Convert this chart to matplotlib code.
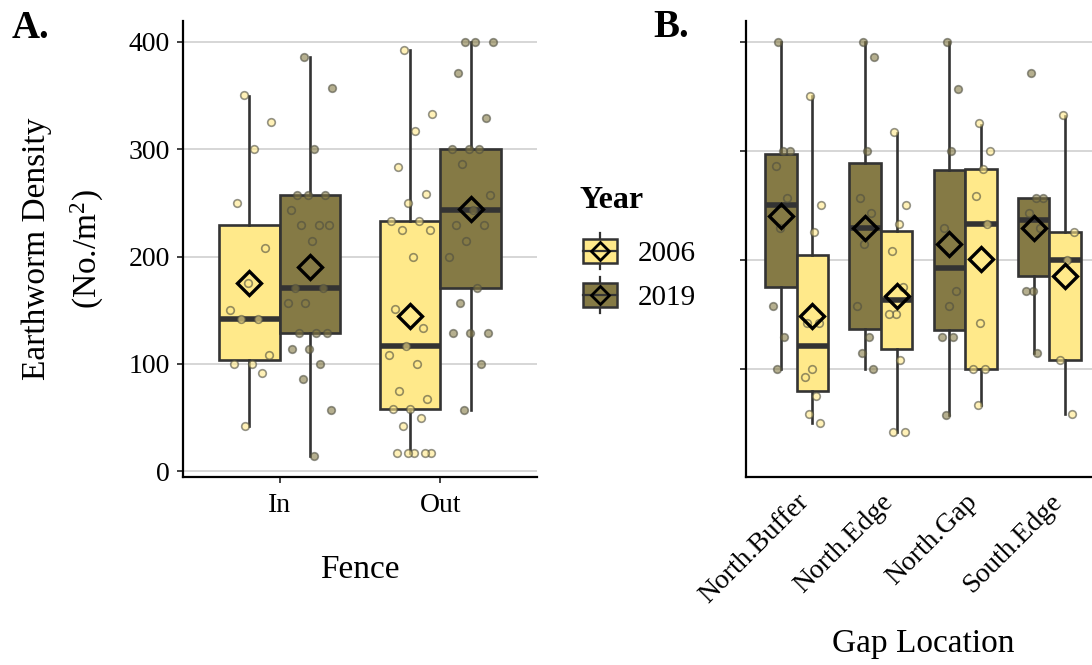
import matplotlib
matplotlib.use('Agg')
import matplotlib.pyplot as plt
import numpy as np
from matplotlib.patches import Rectangle
from matplotlib.lines import Line2D
from matplotlib.colors import to_rgba

plt.rcParams['font.family'] = ['Liberation Serif', 'DejaVu Serif']
plt.rcParams['mathtext.fontset'] = 'custom'
plt.rcParams['mathtext.rm'] = 'Liberation Serif'
plt.rcParams['mathtext.it'] = 'Liberation Serif:italic'

# ---------------- data ----------------
years = ['2006', '2019']
year_colors = {'2006': '#FFE98A', '2019': '#857A45'}

fence_cats = ['In', 'Out']
# raw points, panel A
A_pts = {
    ('In', '2006'): [350, 325, 300, 250, 208, 175, 150, 142, 142, 108, 100, 100, 92, 42],
    ('In', '2019'): [386, 357, 300, 257, 257, 257, 243, 229, 229, 229, 214, 171, 171, 157,
                     157, 129, 129, 129, 114, 114, 100, 86, 57, 14],
    ('Out', '2006'): [392, 333, 317, 283, 258, 250, 233, 233, 225, 225, 200, 151, 133, 117,
                      108, 100, 75, 67, 58, 58, 50, 42, 17, 17, 17, 17, 17],
    ('Out', '2019'): [400, 400, 400, 371, 329, 300, 300, 300, 286, 257, 243, 229, 229, 214,
                      200, 171, 157, 129, 129, 129, 100, 57],
}
# box statistics, panel A: (q1, median, q3, whisker low, whisker high, mean)
A_stats = {
    ('In', '2006'): (104, 142, 229, 42, 349, 175),
    ('In', '2019'): (129, 171, 257, 14, 386, 190),
    ('Out', '2006'): (58, 117, 233, 17, 392, 145),
    ('Out', '2019'): (171, 243, 300, 57, 400, 244),
}

gap_cats = ['North.Buffer', 'North.Edge', 'North.Gap', 'South.Edge']
B_year_order = ['2019', '2006']
B_pts = {
    ('North.Buffer', '2019'): [400, 300, 300, 286, 257, 229, 157, 129, 100],
    ('North.Edge', '2019'): [400, 386, 300, 257, 243, 214, 157, 129, 114, 100],
    ('North.Gap', '2019'): [400, 357, 300, 229, 171, 157, 129, 129, 57],
    ('South.Edge', '2019'): [371, 257, 257, 243, 229, 171, 171, 114],
    ('North.Buffer', '2006'): [350, 250, 225, 142, 142, 100, 92, 75, 58, 50],
    ('North.Edge', '2006'): [317, 250, 233, 208, 175, 150, 150, 108, 42, 42],
    ('North.Gap', '2006'): [325, 300, 283, 258, 233, 142, 100, 100, 67],
    ('South.Edge', '2006'): [333, 225, 200, 108, 58],
}
B_stats = {
    ('North.Buffer', '2019'): (175, 250, 297, 100, 400, 240),
    ('North.Edge', '2019'): (136, 229, 289, 100, 400, 229),
    ('North.Gap', '2019'): (135, 192, 282, 57, 400, 214),
    ('South.Edge', '2019'): (185, 236, 257, 114, 257, 229),
    ('North.Buffer', '2006'): (79, 121, 204, 50, 350, 148),
    ('North.Edge', '2006'): (118, 163, 226, 42, 316, 167),
    ('North.Gap', '2006'): (100, 233, 283, 67, 324, 201),
    ('South.Edge', '2006'): (108, 200, 225, 58, 332, 185),
}

y_ticks = [0, 100, 200, 300, 400]

# ---------------- style ----------------
EDGE = '#333333'
W, H = 1092, 665
DODGE = 0.375
BOXW = 0.375


def jitter_offsets(n, half):
    i = np.arange(n)
    return (((i * 0.6180339887 + 0.37) % 1.0) - 0.5) * 2 * half


def draw_box(ax, pos, stats, pts, color, jhalf):
    q1, med, q3, lo, hi, mean = stats
    st = dict(q1=q1, med=med, q3=q3, whislo=lo, whishi=hi, mean=mean, fliers=[])
    ax.bxp([st], positions=[pos], widths=BOXW, patch_artist=True,
           showfliers=False, showcaps=False, showmeans=False,
           boxprops=dict(facecolor=color, edgecolor=EDGE, linewidth=1.9),
           whiskerprops=dict(color=EDGE, linewidth=1.9),
           medianprops=dict(color=EDGE, linewidth=4.0, solid_capstyle='butt'),
           zorder=2)
    x = pos + jitter_offsets(len(pts), jhalf)
    ax.scatter(x, pts, s=30, facecolors=[to_rgba(color, 0.6)],
               edgecolors=[(0.3, 0.3, 0.25, 0.6)], linewidths=1.2, zorder=4)
    ax.plot([pos], [mean], marker='D', ms=12, mfc='none', mec='black',
            mew=2.4, zorder=5, linestyle='none')


def style_axes(ax):
    for s in ['top', 'right']:
        ax.spines[s].set_visible(False)
    for s in ['left', 'bottom']:
        ax.spines[s].set_linewidth(1.6)
        ax.spines[s].set_color('black')
    ax.yaxis.grid(True, color='#D6D6D6', linewidth=1.4)
    ax.xaxis.grid(False)
    ax.set_axisbelow(True)
    ax.tick_params(axis='both', length=4.5, width=1.3, color=EDGE,
                   labelsize=20, pad=5, labelcolor='black')


fig = plt.figure(figsize=(W / 100, H / 100), dpi=100)

# ---------------- panel A ----------------
axA = fig.add_axes([183 / W, 1 - 477 / H, 354 / W, 456 / H])
for ci, cat in enumerate(fence_cats):
    for yi, yr in enumerate(years):
        pos = ci + 1 + (yi - 0.5) * DODGE
        draw_box(axA, pos, A_stats[(cat, yr)], A_pts[(cat, yr)], year_colors[yr], 0.14)
axA.set_xlim(0.4, 2.6)
axA.set_ylim(-5.3, 419.3)
axA.set_yticks(y_ticks)
axA.set_xticks([1, 2])
axA.set_xticklabels(fence_cats)
style_axes(axA)
axA.tick_params(axis='x', pad=7)
axA.set_xlabel('Fence', fontsize=24, labelpad=26)
axA.set_ylabel('Earthworm Density\n(No./m$^2$)', fontsize=24, labelpad=16, linespacing=1.6)

# ---------------- panel B ----------------
axB = fig.add_axes([746 / W, 1 - 477 / H, 354 / W, 456 / H])
for ci, cat in enumerate(gap_cats):
    for yi, yr in enumerate(B_year_order):
        pos = ci + 1 + (yi - 0.5) * DODGE
        draw_box(axB, pos, B_stats[(cat, yr)], B_pts[(cat, yr)], year_colors[yr], 0.11)
axB.set_xlim(0.4, 4.6)
axB.set_ylim(0.5, 419)
axB.set_yticks(y_ticks[1:])
axB.set_yticklabels([])
axB.set_xticks([1, 2, 3, 4])
axB.set_xticklabels(gap_cats, rotation=45, ha='right', va='top', rotation_mode='anchor',
                    fontsize=21)
style_axes(axB)
axB.tick_params(axis='x', length=0, pad=9)
axB.set_xlabel('Gap Location', fontsize=24, labelpad=14)

# ---------------- panel tags ----------------
fig.text(12 / W, 1 - 38 / H, 'A.', fontsize=28, fontweight='bold', ha='left', va='baseline')
fig.text(653 / W, 1 - 37 / H, 'B.', fontsize=28, fontweight='bold', ha='left', va='baseline')

# ---------------- legend ----------------
lax = fig.add_axes([0, 0, 1, 1])
lax.set_xlim(0, W)
lax.set_ylim(H, 0)
lax.axis('off')
lax.text(580, 208, 'Year', fontsize=23, fontweight='bold', ha='left', va='baseline')
for i, yr in enumerate(years):
    cy = 251 + i * 44
    lax.add_line(Line2D([600, 600], [cy - 18, cy + 18], color=EDGE, lw=1.6, zorder=1))
    lax.add_patch(Rectangle((583, cy - 12), 34, 24, facecolor=year_colors[yr],
                            edgecolor=EDGE, lw=1.8, zorder=2))
    lax.add_line(Line2D([583, 617], [cy, cy], color=EDGE, lw=1.6, zorder=3))
    lax.plot([600], [cy], marker='D', ms=9.5, mfc='none', mec='black', mew=2.0, zorder=4)
    lax.text(638, cy, yr, fontsize=21, ha='left', va='center_baseline')

fig.savefig('out.png', dpi=100)
